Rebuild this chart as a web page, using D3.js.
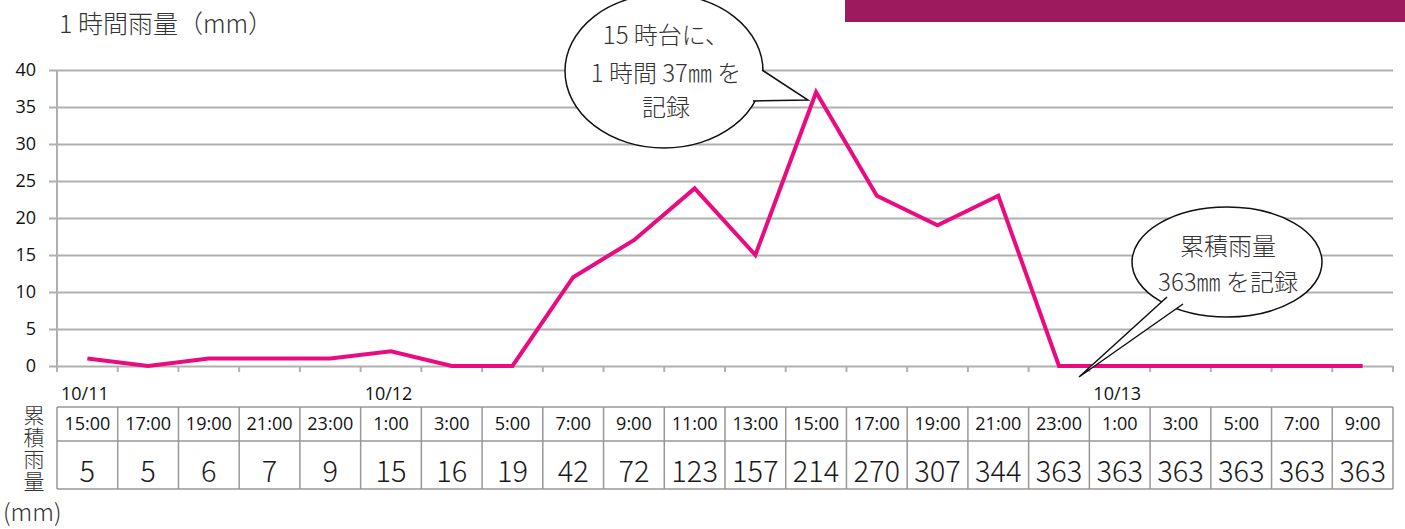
<!DOCTYPE html>
<html><head><meta charset="utf-8">
<script src="https://cdn.jsdelivr.net/npm/d3@7"></script>
<style>
html,body{margin:0;padding:0;background:#fff;}
svg{display:block;}
</style></head>
<body>
<svg id="c" width="1405" height="529"></svg>
<script>
// ---- data ----
const timeLabels = ["15:00","17:00","19:00","21:00","23:00","1:00","3:00","5:00","7:00","9:00","11:00","13:00","15:00","17:00","19:00","21:00","23:00","1:00","3:00","5:00","7:00","9:00"];
const hourlyRain = [1,0,1,1,1,2,0,0,12,17,24,15,37,23,19,23,0,0,0,0,0,0];
const cumulativeRain = [5,5,6,7,9,15,16,19,42,72,123,157,214,270,307,344,363,363,363,363,363,363];
const dateLabels = [{idx:0,label:"10/11"},{idx:5,label:"10/12"},{idx:17,label:"10/13"}];
const yTicks = [0,5,10,15,20,25,30,35,40];

(function(){
const svg = d3.select("#c");
const pL = 57, pR = 1393, pT = 70, pB = 366;
const idx = d3.range(timeLabels.length);
const x = d3.scaleBand().domain(idx).range([pL, pR]).padding(0);
const y = d3.scaleLinear().domain([0,40]).range([pB, pT]);

const gridColor = "#b0b0b0";
const jp = "'Noto Sans CJK JP','Noto Sans',sans-serif";
const lat = "'Open Sans','Noto Sans',sans-serif";

// purple header bar
svg.append("rect").attr("x",845).attr("y",0).attr("width",560).attr("height",22).attr("fill","#9e1a5f");

// title
svg.append("text").attr("x",59).attr("y",33).attr("font-family",jp).attr("font-weight",300)
  .attr("font-size",25).attr("fill","#333").text("1 時間雨量（mm）");

// y gridlines + ticks
const yAxis = d3.axisLeft(y).tickValues(yTicks).tickSizeInner(-(pR-pL)).tickSizeOuter(0);
const gy = svg.append("g").attr("transform",`translate(${pL},0)`).call(yAxis);
gy.select(".domain").remove();
gy.selectAll(".tick line").attr("x1",-8).attr("stroke",gridColor).attr("stroke-width",2);
gy.selectAll(".tick text").attr("font-family",lat).attr("font-size",18).attr("fill","#111").attr("x",-21).attr("dy","0.33em");

// y axis line
svg.append("line").attr("x1",pL).attr("x2",pL).attr("y1",pT).attr("y2",pB+6)
  .attr("stroke",gridColor).attr("stroke-width",2);

// x axis ticks at band boundaries
const bounds = idx.map(i=>x(i)).concat([pR]);
svg.append("g").selectAll("line").data(bounds).join("line")
  .attr("x1",d=>d).attr("x2",d=>d).attr("y1",pB).attr("y2",pB+6)
  .attr("stroke",gridColor).attr("stroke-width",2);

// line
const line = d3.line().x((d,i)=>x(i)+x.bandwidth()/2).y(d=>y(d));
svg.append("path").datum(hourlyRain).attr("d",line).attr("fill","none")
  .attr("stroke","#ea0b80").attr("stroke-width",4).attr("stroke-linejoin","miter");

// date labels
svg.append("g").selectAll("text").data(dateLabels).join("text")
  .attr("x",d=>x(d.idx)+4).attr("y",400).attr("font-family",lat).attr("font-size",18).attr("fill","#111")
  .text(d=>d.label);

// table
const tTop = 407, tMid = 441, tBot = 489;
const tbl = svg.append("g");
const tcol = "#9a9696";
tbl.selectAll("line.v").data(bounds).join("line").attr("class","v")
  .attr("x1",d=>d).attr("x2",d=>d).attr("y1",tTop).attr("y2",tBot).attr("stroke",tcol).attr("stroke-width",1.5);
[tTop,tMid,tBot].forEach(yy=>{
  tbl.append("line").attr("x1",pL).attr("x2",pR).attr("y1",yy).attr("y2",yy).attr("stroke",tcol).attr("stroke-width",1.5);
});
tbl.selectAll("text.t").data(timeLabels).join("text").attr("class","t")
  .attr("x",(d,i)=>x(i)+x.bandwidth()/2).attr("y",430).attr("text-anchor","middle")
  .attr("font-family",lat).attr("font-size",18).attr("fill","#111").text(d=>d);
tbl.selectAll("text.c").data(cumulativeRain).join("text").attr("class","c")
  .attr("x",(d,i)=>x(i)+x.bandwidth()/2).attr("y",482).attr("text-anchor","middle")
  .attr("font-family",jp).attr("font-weight",300).attr("font-size",29).attr("fill","#1a1a1a").text(d=>d);

// vertical label (single vertical text)
svg.append("text").attr("x",34).attr("y",405)
  .attr("style","writing-mode: vertical-rl; text-orientation: upright;")
  .attr("font-family",jp).attr("font-weight",300).attr("font-size",21).attr("letter-spacing",0.7)
  .attr("fill","#333").text("累積雨量");
svg.append("text").attr("x",3).attr("y",521).attr("font-family",jp).attr("font-weight",300)
  .attr("font-size",24).attr("fill","#333").text("(mm)");

// callout 1
const c1 = svg.append("g");
c1.append("ellipse").attr("cx",664).attr("cy",71).attr("rx",99).attr("ry",77).attr("fill","#fff").attr("stroke","#111").attr("stroke-width",1.5);
c1.append("path").attr("d","M755,62 L762,70 L808,100 L753,101 L745,95 Z").attr("fill","#fff").attr("stroke","none");
c1.append("path").attr("d","M762,70 L808,100 L753,101").attr("fill","none").attr("stroke","#111").attr("stroke-width",1.5);
[["15 時台に、",44],["1 時間 37㎜ を",82],["記録",116]].forEach(([t,yy])=>{
  c1.append("text").attr("x",666).attr("y",yy).attr("text-anchor","middle").attr("font-family",jp)
    .attr("font-weight",300).attr("font-size",24).attr("fill","#333").text(t);
});

// callout 2
const c2 = svg.append("g");
c2.append("ellipse").attr("cx",1227).attr("cy",262).attr("rx",95).attr("ry",55).attr("fill","#fff").attr("stroke","#111").attr("stroke-width",1.5);
c2.append("path").attr("d","M1168,296 L1079,377 L1184,303 Z").attr("fill","#fff").attr("stroke","none");
c2.append("path").attr("d","M1167,297 L1079,377 L1183,304").attr("fill","none").attr("stroke","#111").attr("stroke-width",1.5);
[["累積雨量",255],["363㎜ を記録",291]].forEach(([t,yy])=>{
  c2.append("text").attr("x",1228).attr("y",yy).attr("text-anchor","middle").attr("font-family",jp)
    .attr("font-weight",300).attr("font-size",24).attr("fill","#333").text(t);
});
})();
</script>
</body></html>
